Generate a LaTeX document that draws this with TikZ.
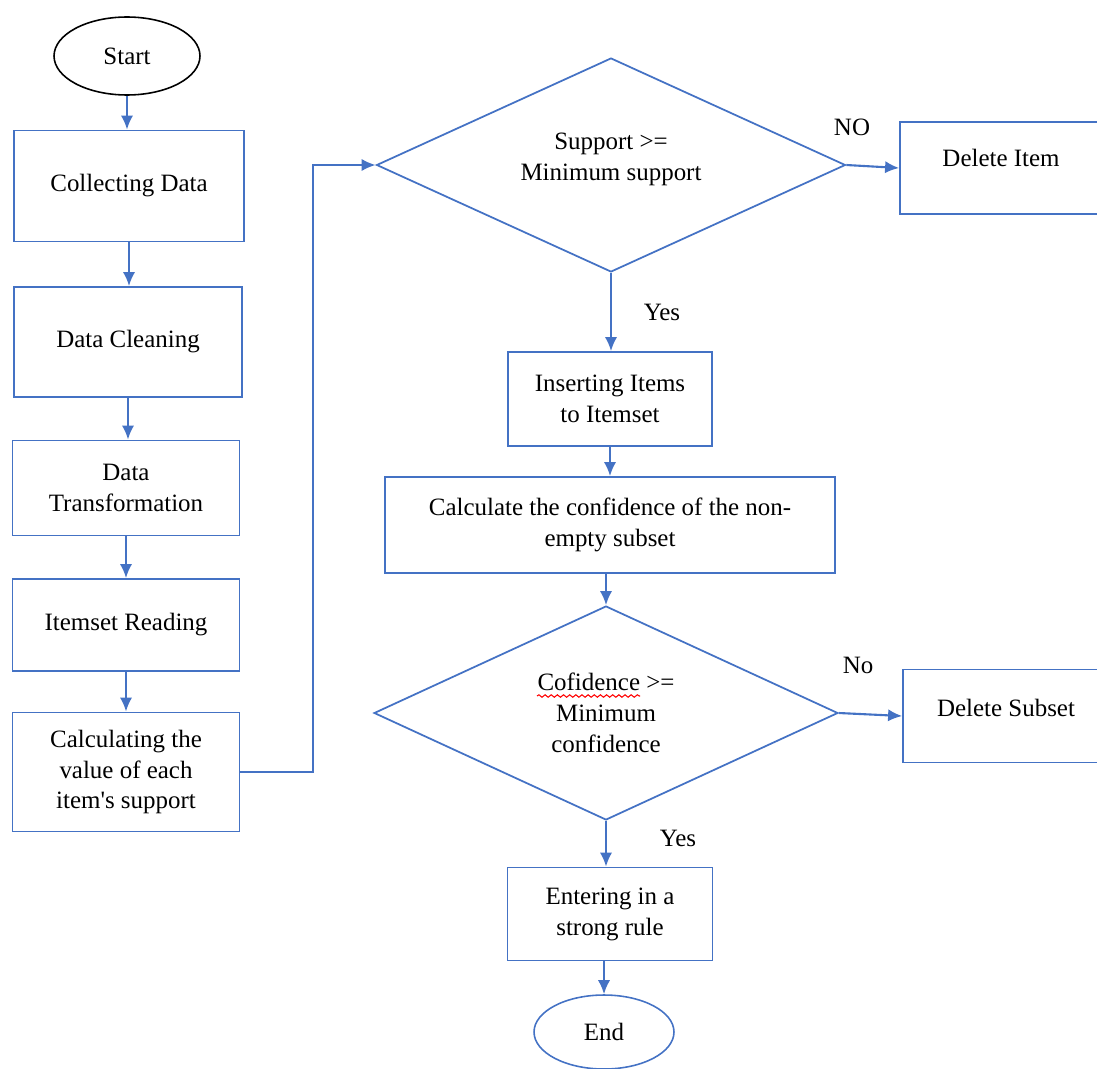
\documentclass[tikz,border=0pt]{standalone}
\usepackage{fontspec}
\setmainfont{Liberation Serif}
\usetikzlibrary{arrows.meta,positioning,shapes,decorations.pathmorphing}
\definecolor{flowblue}{RGB}{68,114,196}

\begin{document}
\begin{tikzpicture}[x=0.02cm,y=-0.02cm]
\tikzstyle{txt}=[font=\fontsize{14.2}{17.6}\selectfont,align=center]
\tikzstyle{box}=[txt,draw=flowblue,line width=1pt,rectangle,inner sep=2pt]
\tikzstyle{decide}=[txt,draw=flowblue,line width=1pt,diamond,aspect=2.2,inner sep=0pt]
\tikzstyle{term}=[txt,ellipse,line width=0.9pt]
\tikzstyle{arrow}=[flowblue,line width=1.2pt,-{Latex[length=8pt,width=7pt]}]
\useasboundingbox (0,0) rectangle (1097,1068);
\clip (0,0) rectangle (1097,1068);
% left column
\node [term,draw=black,minimum width=2.92cm,minimum height=1.56cm] at (127,56) (start) {Start};
\node [box,minimum width=4.6cm,minimum height=2.22cm] at (129,186) (collect) {Collecting Data};
\node [box,minimum width=4.56cm,minimum height=2.2cm] at (128,342) (clean) {Data Cleaning};
\node [box,minimum width=4.54cm,minimum height=1.9cm] at (126,488) (trans) {Data\\Transformation};
\node [box,minimum width=4.54cm,minimum height=1.84cm] at (126,625) (read) {Itemset Reading};
\node [box,minimum width=4.54cm,minimum height=2.38cm] at (126,772) (calc) {Calculating the\\value of each\\item\textquotesingle s support};
% right column
\node [decide,minimum width=9.38cm,minimum height=4.28cm] at (611,165) (supp) {Support >=\\Minimum support\\[-8.5pt]};
\node [box,minimum width=4.04cm,minimum height=1.84cm] at (1001,168) (delitem) {Delete Item\\[-6.2pt]};
\node [box,minimum width=4.08cm,minimum height=1.88cm] at (610,399) (ins) {Inserting Items\\to Itemset};
\node [box,minimum width=9.0cm,minimum height=1.92cm] at (610,525) (conf) {Calculate the confidence of the non-\\empty subset};
\node [decide,minimum width=9.28cm,minimum height=4.28cm] at (606,713) (cofid) {Cofidence >=\\Minimum\\confidence};
\node [box,minimum width=4.12cm,minimum height=1.86cm] at (1006,716) (delsub) {Delete Subset\\[-8.6pt]};
\node [box,minimum width=4.1cm,minimum height=1.86cm] at (610,914) (rule) {Entering in a\\strong rule};
\node [term,draw=flowblue,minimum width=2.8cm,minimum height=1.48cm] at (604,1032) (stop) {End};
% labels
\node [txt] at (852,127) (no1) {NO};
\node [txt] at (662,312) (yes1) {Yes};
\node [txt] at (858,665) (no2) {No};
\node [txt] at (678,838) (yes2) {Yes};
\draw [red,line width=0.6pt,decorate,decoration={snake,amplitude=0.7pt,segment length=3.5pt}]
  ([shift={(-69,-17)}]cofid.center) -- ([shift={(34,-17)}]cofid.center);
% connectors
\draw [arrow] (start) -- (start |- collect.north);
\draw [arrow] (collect) -- (collect |- clean.north);
\draw [arrow] (clean) -- (clean |- trans.north);
\draw [arrow] (trans) -- (trans |- read.north);
\draw [arrow] (read) -- (read |- calc.north);
\draw [arrow] (calc.east) -- ++(73,0) |- (supp.west);
\draw [arrow] (supp.east) -- (delitem.west);
\draw [arrow] (supp.south) -- (supp.south |- ins.north);
\draw [arrow] (ins) -- (ins |- conf.north);
\draw [arrow] (cofid |- conf.south) -- (cofid.north);
\draw [arrow] (cofid.east) -- (delsub.west);
\draw [arrow] (cofid.south) -- (cofid.south |- rule.north);
\draw [arrow] (stop |- rule.south) -- (stop.north);
\end{tikzpicture}
\end{document}
